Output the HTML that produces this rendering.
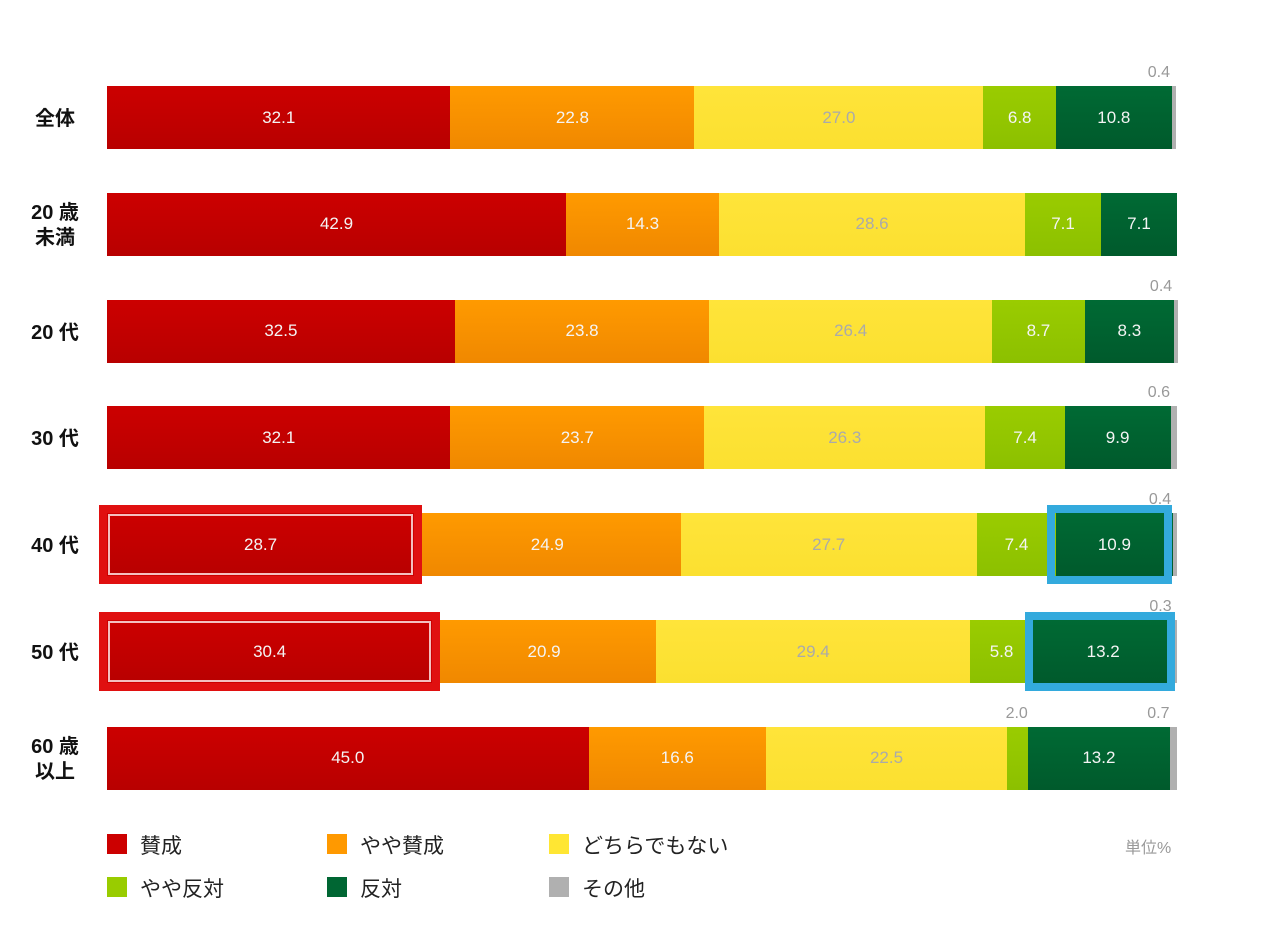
<!DOCTYPE html>
<html><head><meta charset="utf-8">
<style>
body{margin:0;background:#fff;width:1280px;height:939px;overflow:hidden;font-family:"Liberation Sans","Noto Sans CJK JP",sans-serif;}
#c{position:absolute;left:0;top:0;width:1280px;height:939px;}
.seg{position:absolute;display:flex;align-items:center;justify-content:center;font-size:17px;color:#f4f4f4;}
.rl{position:absolute;left:20px;width:70px;text-align:center;font-weight:bold;font-size:20px;color:#111;line-height:25px;}
.sm{position:absolute;font-size:16px;color:#999;}
.lg{position:absolute;font-size:21px;color:#222;}
.sq{position:absolute;width:20px;height:20px;}
</style></head><body>
<div id="c"></div>
<script>
const categories=["全体","20 歳\n未満","20 代","30 代","40 代","50 代","60 歳\n以上"];
const s1=[32.1,42.9,32.5,32.1,28.7,30.4,45.0];
const s2=[22.8,14.3,23.8,23.7,24.9,20.9,16.6];
const s3=[27.0,28.6,26.4,26.3,27.7,29.4,22.5];
const s4=[6.8,7.1,8.7,7.4,7.4,5.8,2.0];
const s5=[10.8,7.1,8.3,9.9,10.9,13.2,13.2];
const s6=[0.4,0,0.4,0.6,0.4,0.3,0.7];
const seriesNames=["賛成","やや賛成","どちらでもない","やや反対","反対","その他"];
const colors=["linear-gradient(#cc0000,#b80000)","linear-gradient(#ff9a00,#f08800)","linear-gradient(#ffe43a,#fbe030)","linear-gradient(#9acc00,#8cc000)","linear-gradient(#006a34,#005a2c)","#b0b0b0"];
const solid=["#cc0000","#ff9900","#ffe633","#99cc00","#006633","#b0b0b0"];
const series=[s1,s2,s3,s4,s5,s6];
const X0=107,W=1070,Y0=86,PITCH=106.8,H=63;
const x=v=>X0+v/100*W;
const y=i=>Y0+i*PITCH;
const c=document.getElementById('c');
categories.forEach((cat,i)=>{
  const l=document.createElement('div');l.className='rl';
  
  
  const lines=cat.split("\n");
  l.style.top=(y(i)+H/2-lines.length*12.5+2)+'px';
  l.innerHTML=lines.join('<br>');c.appendChild(l);
  let acc=0;
  series.forEach((s,k)=>{
    const v=s[i];if(v<=0)return;
    const d=document.createElement('div');d.className='seg';
    
    
    const x1=x(acc),x2=x(acc+v);
    d.style.left=x1+'px';d.style.width=(x2-x1)+'px';d.style.top=y(i)+'px';d.style.height=H+'px';
    d.style.background=colors[k];
    if(k===2)d.style.color='#aaa';
    if(v>=3&&k<5)d.textContent=v.toFixed(1);
    c.appendChild(d);
    if(v<3){
      const t=document.createElement('div');t.className='sm';
      
      
      t.textContent=v.toFixed(1);
      t.style.left=((x1+x2)/2-(k===5?26:12))+'px';t.style.top=(y(i)-22)+'px';
      c.appendChild(t);
    }
    acc+=v;
  });
});
function box(name,i,a,b,col,inner){
  const d=document.createElement('div');
  
  
  d.style.cssText=`position:absolute;left:${a}px;top:${y(i)-8}px;width:${b-a}px;height:${H+16}px;box-sizing:border-box;border:8px solid ${col};`;
  if(inner){d.style.boxShadow='inset 0 0 0 1px #c00, inset 0 0 0 3px #f4c0c0';}
  c.appendChild(d);
}
box('highlight-agree-40s',4,99,422,'#e01010',true);
box('highlight-agree-50s',5,99,440,'#e01010',true);
box('highlight-oppose-40s',4,1047,1172,'#33aadd',false);
box('highlight-oppose-50s',5,1025,1175,'#33aadd',false);
const lx=[107,327,549],ly=[834,877];
seriesNames.forEach((n,k)=>{
  const sx=lx[k%3],sy=ly[Math.floor(k/3)];
  const q=document.createElement('div');q.className='sq';
  
  
  q.style.left=sx+'px';q.style.top=sy+'px';q.style.background=solid[k];c.appendChild(q);
  const t=document.createElement('div');t.className='lg';
  
  
  t.style.left=(sx+33)+'px';t.style.top=(sy-4)+'px';t.textContent=n;c.appendChild(t);
});
const u=document.createElement('div');u.className='sm';


u.style.left='1125px';u.style.top='834px';u.textContent='単位%';c.appendChild(u);
</script>
</body></html>
